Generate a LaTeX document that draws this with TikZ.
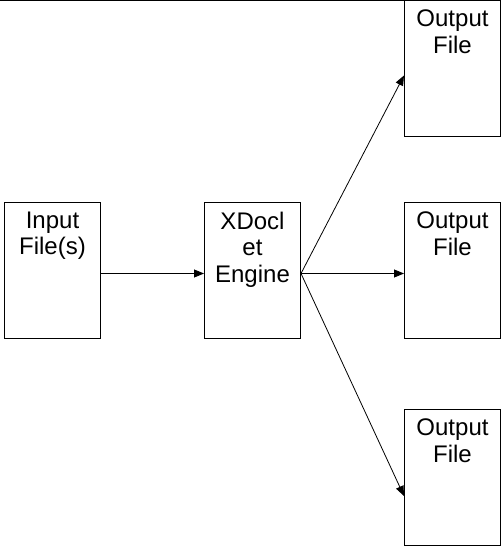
\documentclass[tikz,border=0pt]{standalone}
\usepackage{fontspec}
\setmainfont{Liberation Sans}
\usetikzlibrary{arrows.meta}
\begin{document}
\begin{tikzpicture}[x=1pt,y=-1pt,
  filebox/.style={draw=black,line width=1pt,minimum width=96pt,minimum height=136pt,inner sep=0pt},
  boxtext/.style={anchor=north,inner sep=0pt,align=center,font=\fontsize{24}{26.7}\selectfont},
  conn/.style={draw=black,line width=0.8pt,-{Triangle[length=10pt,width=8pt]}}]
\useasboundingbox (0,0) rectangle (501,546);
\fill[white] (0,0) rectangle (501,546);
\draw[line width=1pt] (0,0.5) -- (501,0.5);
\node[filebox] (in) at (52.5,270.5) {};
\node[filebox] (xd) at (252.5,270.5) {};
\node[filebox] (o1) at (452.5,68.5) {};
\node[filebox] (o2) at (452.5,270.5) {};
\node[filebox] (o3) at (452.5,477.5) {};
\node[boxtext] (in-t) at ([yshift=-9.5pt]in.north) {Input\\File(s)};
\node[boxtext] (xd-t) at ([yshift=-9.5pt]xd.north) {XDocl\\et\\Engine};
\node[boxtext] (o1-t) at ([yshift=-9.5pt]o1.north) {Output\\File};
\node[boxtext] (o2-t) at ([yshift=-9.5pt]o2.north) {Output\\File};
\node[boxtext] (o3-t) at ([yshift=-9.5pt]o3.north) {Output\\File};
\draw[conn] ([yshift=-3pt]in.east) -- ([yshift=-3pt]xd.west);
\draw[conn] ([yshift=-3pt]xd.east) -- ([yshift=-7pt]o1.west);
\draw[conn] ([yshift=-3pt]xd.east) -- ([yshift=-3pt]o2.west);
\draw[conn] ([yshift=-3pt]xd.east) -- ([yshift=-18.5pt]o3.west);
\end{tikzpicture}
\end{document}
